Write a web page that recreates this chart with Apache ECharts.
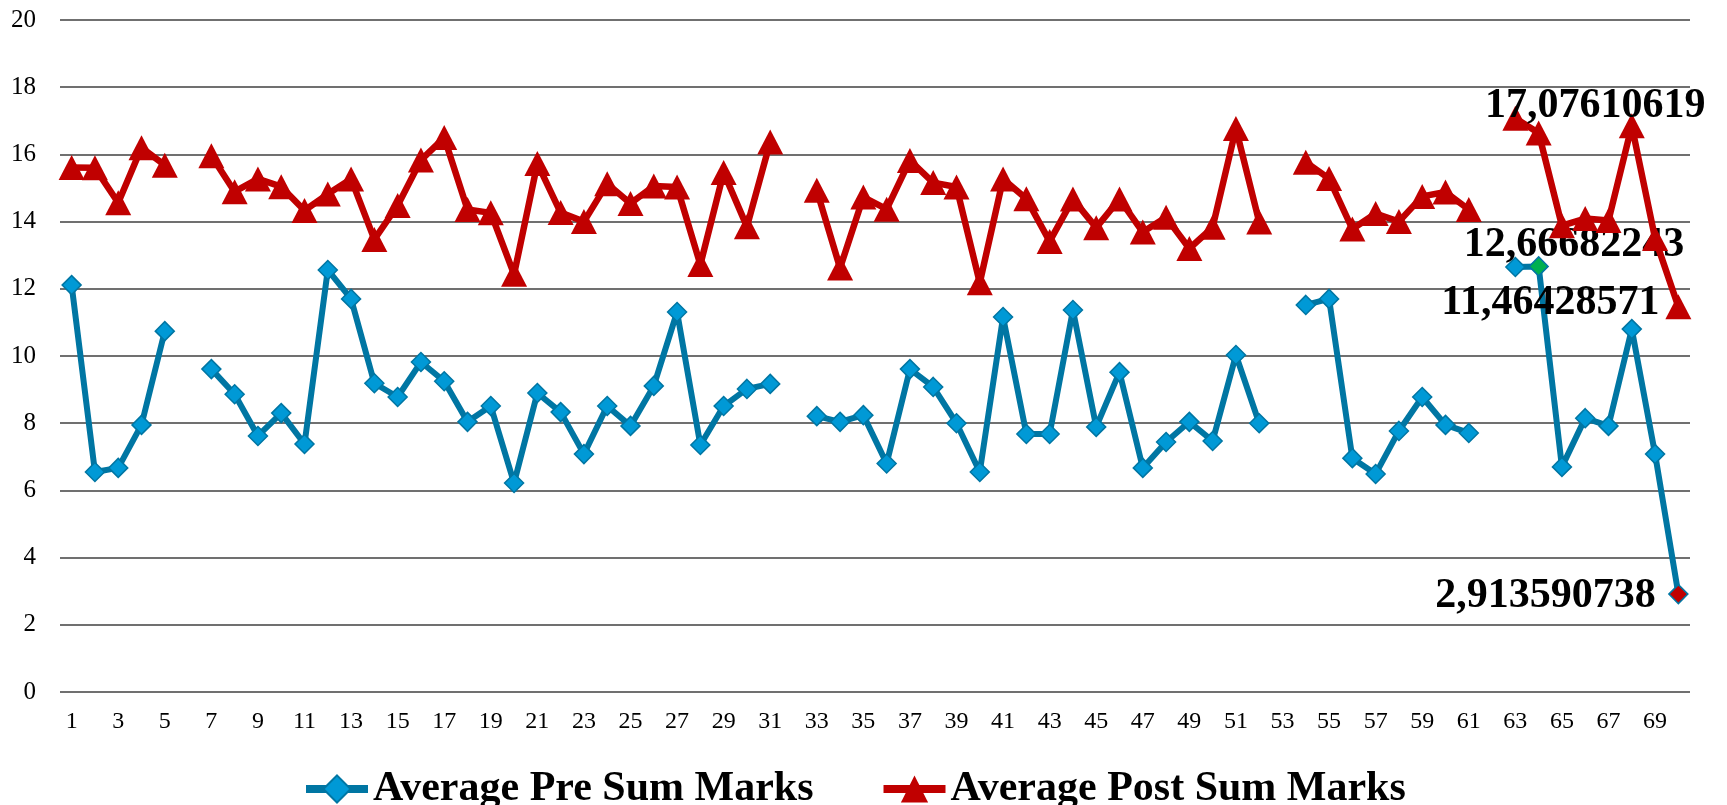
<!DOCTYPE html>
<html>
<head>
<meta charset="utf-8">
<script src="https://cdn.jsdelivr.net/npm/echarts@6/dist/echarts.min.js"></script>
<style>
  html, body { margin: 0; padding: 0; background: #fff; }
  #main { width: 1727px; height: 805px; }
</style>
</head>
<body>
<div id="main"></div>
<script>
const categories = [
  1, 2, 3, 4, 5, 6, 7, 8, 9, 10, 11, 12, 13, 14, 15, 16, 17, 18, 19, 20,
  21, 22, 23, 24, 25, 26, 27, 28, 29, 30, 31, 32, 33, 34, 35, 36, 37, 38, 39, 40,
  41, 42, 43, 44, 45, 46, 47, 48, 49, 50, 51, 52, 53, 54, 55, 56, 57, 58, 59, 60,
  61, 62, 63, 64, 65, 66, 67, 68, 69, 70
]
// gaps (null) at 6, 32, 53, 62
const preMarks = [
  12.11, 6.55, 6.67, 7.95, 10.74, null, 9.61, 8.86, 7.62, 8.30,
  7.38, 12.56, 11.70, 9.19, 8.78, 9.82, 9.25, 8.04, 8.51, 6.22,
  8.90, 8.33, 7.08, 8.51, 7.92, 9.11, 11.31, 7.35, 8.51, 9.02,
  9.17, null, 8.21, 8.04, 8.24, 6.80, 9.61, 9.08, 8.00, 6.55,
  11.16, 7.68, 7.68, 11.37, 7.89, 9.52, 6.67, 7.44, 8.04, 7.47,
  10.03, 8.00, null, 11.52, 11.70, 6.96, 6.49, 7.77, 8.78, 7.95,
  7.71, null, 12.65, 12.66682243, 6.70, 8.15, 7.92, 10.80, 7.08, 2.913590738
]
const postMarks = [
  15.61, 15.60, 14.56, 16.20, 15.68, null, 15.96, 14.89, 15.27, 15.04,
  14.33, 14.82, 15.27, 13.47, 14.48, 15.83, 16.50, 14.36, 14.26, 12.43,
  15.73, 14.27, 14.00, 15.13, 14.54, 15.06, 15.03, 12.72, 15.46, 13.85,
  16.37, null, 14.93, 12.62, 14.73, 14.37, 15.82, 15.16, 15.03, 12.18,
  15.27, 14.68, 13.41, 14.67, 13.82, 14.67, 13.69, 14.13, 13.20, 13.83,
  16.77, 13.99, null, 15.77, 15.28, 13.78, 14.24, 14.00, 14.75, 14.88,
  14.36, null, 17.07610619, 16.64, 13.88, 14.09, 14.03, 16.85, 13.50, 11.46428571
]
const yTicks = [0, 2, 4, 6, 8, 10, 12, 14, 16, 18, 20]

const serif = "'Liberation Serif', 'DejaVu Serif', serif"
const bigLabel = {
  show: true,
  align: "center",
  verticalAlign: "middle",
  fontFamily: serif,
  fontWeight: "bold",
  fontSize: 42,
  color: "#000",
  formatter: (p) => String(p.value).replace(".", ",")
}

// points that carry a value label: index -> shift of label centre from the point
const preMarked = {
  63: { shift: [36, -20], color: "#00B050" },
  69: { shift: [-132, 3], color: "#C00000" }
}
const postMarked = {
  62: { shift: [80, -12] },
  69: { shift: [-128, -4] }
}

function buildData(values, marked, size) {
  return values.map((v, i) => {
    const m = marked[i]
    if (!m || v == null) return v
    // position is relative to the symbol's box, so add half its size
    const pos = [size[0] / 2 + m.shift[0], size[1] / 2 + m.shift[1]]
    const item = { value: v, label: Object.assign({}, bigLabel, { position: pos }) }
    if (m.color) item.itemStyle = { color: m.color }
    return item
  })
}

const preSize = [19, 19]
const postSize = [26, 25]

const chart = echarts.init(document.getElementById("main"))
const option = {
  backgroundColor: "#fff",
  animation: false,
  grid: { left: 60, right: 37, top: 20, bottom: 113 },
  legend: {
    left: 297,
    top: 763,
    itemGap: 66,
    itemWidth: 62,
    itemHeight: 34,
    lineStyle: { width: 8 },
    textStyle: { fontFamily: serif, fontWeight: "bold", fontSize: 42, color: "#000" },
    data: ["Average Pre Sum Marks", "Average Post Sum Marks"]
  },
  xAxis: {
    type: "category",
    data: categories,
    boundaryGap: true,
    axisLine: { show: false },
    axisTick: { show: false },
    axisLabel: { interval: 1, margin: 18, fontFamily: serif, fontSize: 24, color: "#000" }
  },
  yAxis: {
    type: "value",
    min: yTicks[0],
    max: yTicks[yTicks.length - 1],
    interval: 2,
    axisLine: { show: false },
    axisTick: { show: false },
    axisLabel: { margin: 24, fontFamily: serif, fontSize: 25, color: "#000" },
    splitLine: { lineStyle: { color: "#707070", width: 2 } }
  },
  series: [
    {
      name: "Average Pre Sum Marks",
      type: "line",
      data: buildData(preMarks, preMarked, preSize),
      connectNulls: false,
      showAllSymbol: true,
      symbol: "diamond",
      symbolSize: preSize,
      lineStyle: { color: "#0076A3", width: 6 },
      itemStyle: { color: "#0099D6", borderColor: "#0076A3", borderWidth: 1.5 },
      label: { show: false },
      labelLayout: { hideOverlap: false },
      z: 2
    },
    {
      name: "Average Post Sum Marks",
      type: "line",
      data: buildData(postMarks, postMarked, postSize),
      connectNulls: false,
      showAllSymbol: true,
      symbol: "triangle",
      symbolSize: postSize,
      lineStyle: { color: "#C00000", width: 6.5 },
      itemStyle: { color: "#C00000" },
      label: { show: false },
      labelLayout: { hideOverlap: false },
      z: 3
    }
  ]
}
chart.setOption(option)
</script>
</body>
</html>
